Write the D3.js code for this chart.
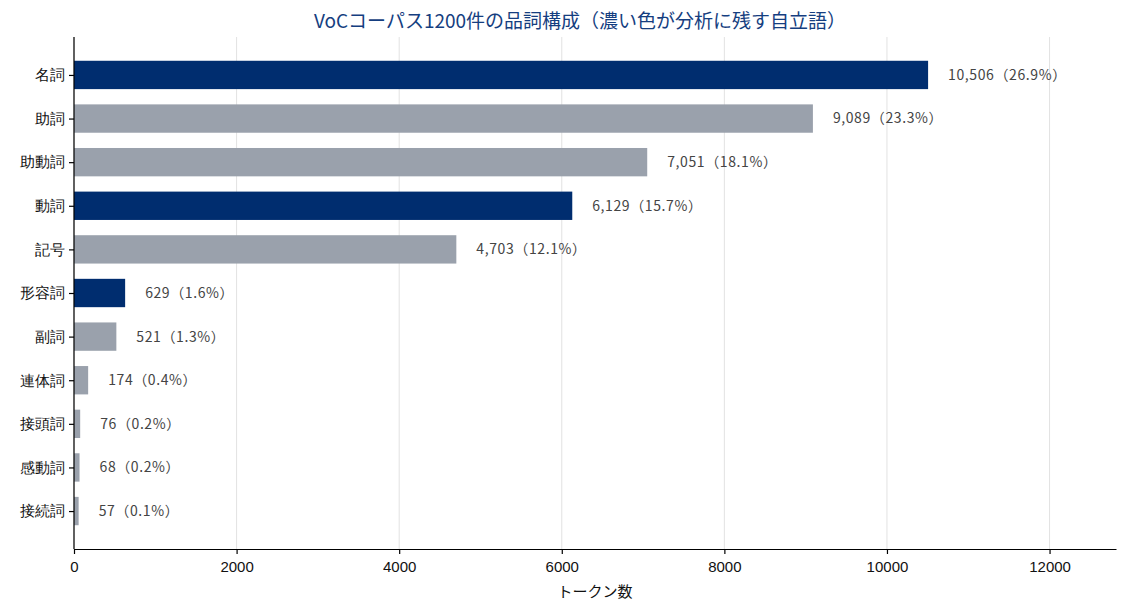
<!DOCTYPE html>
<html>
<head>
  <meta charset="utf-8">
  <title>VoC品詞構成</title>
  <script src="https://d3js.org/d3.v7.min.js"></script>
  <style>
    body, html { margin: 0; padding: 0; background: #fff; }
    svg { display: block; font-family: "Noto Sans CJK JP", "Noto Sans", sans-serif; }
    .grid line { stroke: #e2e2e2; stroke-width: 1px; }
    .axis path, .axis line { stroke: #000; stroke-width: 1.2px; }
    .axis text { font-size: 15px; fill: #111; }
    .value-label { font-size: 14px; fill: #444; letter-spacing: 0.6px; }
  </style>
</head>
<body>
<svg width="1127" height="612"></svg>
<script>
  // 品詞ごとのトークン数
  const categories = ["名詞", "助詞", "助動詞", "動詞", "記号", "形容詞", "副詞", "連体詞", "接頭詞", "感動詞", "接続詞"];
  const counts = [10506, 9089, 7051, 6129, 4703, 629, 521, 174, 76, 68, 57];
  const shares = ["26.9", "23.3", "18.1", "15.7", "12.1", "1.6", "1.3", "0.4", "0.2", "0.2", "0.1"];
  // 分析に残す自立語は濃い色
  const kept = ["名詞", "動詞", "形容詞"];
  const xTicks = [0, 2000, 4000, 6000, 8000, 10000, 12000];

  const svg = d3.select("svg");
  const margin = { top: 37, right: 11, bottom: 63, left: 74 };
  const width = 1127 - margin.left - margin.right;
  const height = 612 - margin.top - margin.bottom;
  const g = svg.append("g").attr("transform", `translate(${margin.left},${margin.top})`);

  const x = d3.scaleLinear()
    .domain([0, d3.max(counts) * 1.22])
    .range([0, width]);

  // bar centres on a linear index scale, with a little padding at both ends
  const barH = 0.65;
  const pad = 0.87;
  const y = d3.scaleLinear()
    .domain([-pad, categories.length - 1 + pad])
    .range([0, height]);
  const bandPx = y(1) - y(0);

  // vertical grid
  g.append("g").attr("class", "grid")
    .selectAll("line")
    .data(xTicks)
    .join("line")
    .attr("x1", d => x(d)).attr("x2", d => x(d))
    .attr("y1", 0).attr("y2", height);

  // bars
  g.selectAll("rect.bar")
    .data(categories)
    .join("rect")
    .attr("class", "bar")
    .attr("x", x(0))
    .attr("y", (d, i) => y(i) - bandPx * barH / 2)
    .attr("width", (d, i) => x(counts[i]) - x(0))
    .attr("height", bandPx * barH)
    .attr("fill", d => kept.includes(d) ? "#002d6f" : "#9aa1ac");

  // value labels
  const fmt = d3.format(",");
  g.selectAll("text.value-label")
    .data(categories)
    .join("text")
    .attr("class", "value-label")
    .attr("x", (d, i) => x(counts[i]) + 20)
    .attr("y", (d, i) => y(i))
    .attr("dy", "0.35em")
    .text((d, i) => `${fmt(counts[i])}（${shares[i]}%）`);

  // axes
  const xAxis = d3.axisBottom(x).tickValues(xTicks).tickFormat(d3.format("d")).tickSize(5).tickSizeOuter(0);
  g.append("g").attr("class", "axis")
    .attr("transform", `translate(0,${height})`)
    .call(xAxis)
    .selectAll("text").attr("dy", "1.0em");

  const yAxis = d3.axisLeft(y)
    .tickValues(d3.range(categories.length))
    .tickFormat(i => categories[i])
    .tickSize(5).tickSizeOuter(0);
  g.append("g").attr("class", "axis")
    .call(yAxis)
    .call(a => a.select(".domain").attr("d", `M0,0V${height}`))
    .selectAll("text").attr("x", -9);

  // axis label
  svg.append("text")
    .attr("x", margin.left + width / 2)
    .attr("y", 597)
    .attr("text-anchor", "middle")
    .attr("font-size", 15)
    .attr("fill", "#111")
    .text("トークン数");

  // title
  svg.append("text")
    .attr("x", 580)
    .attr("y", 28)
    .attr("text-anchor", "middle")
    .attr("font-size", 19)
    .attr("fill", "#153e80")
    .text("VoCコーパス1200件の品詞構成（濃い色が分析に残す自立語）");
</script>
</body>
</html>
